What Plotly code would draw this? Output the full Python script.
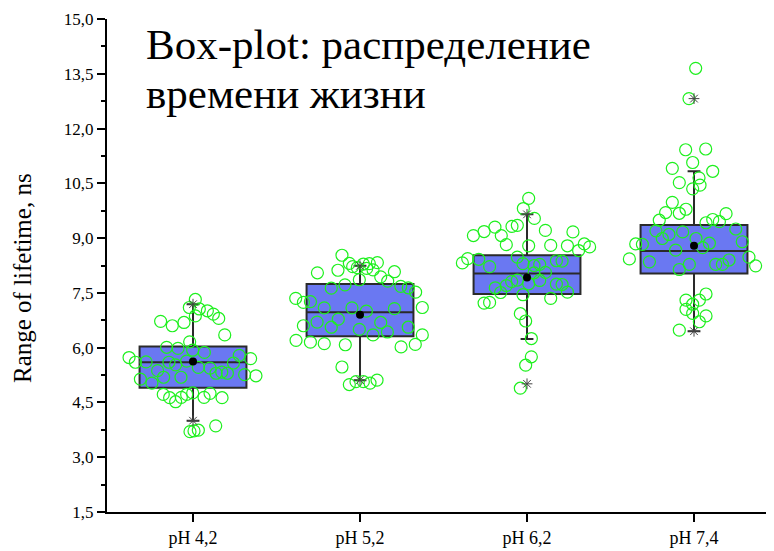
import plotly.graph_objects as go

categories = ["pH 4,2", "pH 5,2", "pH 6,2", "pH 7,4"]
positions = [0, 1, 2, 3]

q1 = [4.90, 6.31, 7.47, 8.03]
median = [5.60, 6.97, 8.03, 8.65]
q3 = [6.03, 7.74, 8.53, 9.36]
whisker_low = [4.00, 5.11, 6.24, 6.45]
whisker_high = [7.19, 8.24, 9.65, 10.83]
means = [5.62, 6.90, 7.92, 8.79]
extreme_low = [4.00, 5.11, 5.01, 6.45]
extreme_high = [7.19, 8.24, 9.65, 12.82]

# individual lifetimes (ns) with horizontal jitter offsets (category units)
g1_values = [7.32, 7.10, 7.06, 7.01, 6.92, 6.80, 6.87, 6.72, 6.60, 6.69,
             6.35, 6.16, 6.01, 5.98, 5.93, 5.87, 5.73, 5.60, 5.61, 5.60,
             5.53, 5.63, 5.46, 5.44, 5.58, 5.79, 5.70, 5.37, 5.19, 5.19,
             5.30, 5.33, 5.30, 5.26, 5.23, 5.14, 5.03, 4.72, 4.63, 4.52,
             4.64, 4.72, 4.76, 4.64, 4.75, 4.63, 3.86, 3.70, 3.72, 3.74]
g1_jitter = [0.014, -0.022, 0.038, 0.086, 0.122, 0.154, 0.014, -0.194, -0.124, -0.054,
             0.190, -0.020, -0.158, -0.090, -0.002, 0.068, -0.383, -0.345, -0.281, -0.144,
             -0.104, -0.038, 0.032, 0.102, 0.242, 0.277, 0.345, -0.212, -0.176, -0.072,
             0.138, 0.172, 0.206, 0.309, 0.377, -0.315, -0.246, -0.178, -0.140, -0.104,
             -0.070, -0.038, -0.002, 0.066, 0.102, 0.174, 0.136, -0.018, 0.006, 0.032]

g2_values = [8.53, 8.31, 8.22, 8.19, 8.29, 8.30, 8.33, 8.17, 8.13, 8.05,
             8.12, 8.08, 7.94, 7.82, 7.86, 7.72, 7.63, 7.68, 7.64, 7.52,
             7.35, 7.24, 7.26, 7.09, 7.09, 7.00, 7.07, 7.10, 6.70, 6.78,
             6.56, 6.60, 6.69, 6.50, 6.43, 6.35, 6.56, 6.35, 6.20, 6.15,
             6.11, 6.08, 6.02, 6.09, 5.47, 4.99, 5.07, 5.07, 5.03, 5.11]
g2_jitter = [-0.108, -0.064, -0.044, -0.016, 0.020, 0.056, 0.104, 0.040, 0.078, -0.255,
             -0.132, 0.206, 0.124, 0.166, -0.004, -0.090, -0.172, 0.244, 0.289, 0.333,
             -0.385, -0.339, -0.297, -0.214, -0.048, 0.038, 0.206, 0.373, -0.257, -0.130,
             -0.172, -0.339, 0.124, -0.004, 0.164, 0.078, 0.289, 0.373, -0.383, -0.297,
             -0.214, -0.088, 0.246, 0.331, -0.108, -0.064, -0.024, 0.020, 0.060, 0.102]

g3_values = [10.09, 9.81, 9.54, 9.07, 9.18, 9.30, 9.07, 8.82, 9.32, 9.35,
             9.21, 9.17, 8.79, 8.80, 8.79, 8.66, 8.84, 8.76, 8.32, 8.44,
             8.42, 8.22, 8.48, 8.30, 8.25, 8.28, 8.38, 8.37, 8.05, 8.06,
             7.84, 7.75, 7.85, 7.81, 7.70, 7.64, 7.51, 7.74, 7.73, 7.52,
             7.35, 7.45, 7.22, 7.24, 6.93, 6.73, 6.25, 5.75, 5.52, 4.89]
g3_jitter = [0.010, -0.022, 0.044, -0.321, -0.257, -0.192, -0.154, -0.124, -0.090, -0.058,
             0.110, 0.275, 0.010, 0.142, 0.242, 0.309, 0.343, 0.375, -0.387, -0.355,
             -0.289, -0.224, -0.058, -0.024, 0.042, 0.076, 0.176, 0.210, 0.042, 0.110,
             0.076, 0.010, -0.058, -0.092, -0.124, -0.190, -0.158, 0.176, 0.210, 0.242,
             0.142, -0.024, -0.257, -0.224, -0.040, -0.008, 0.026, 0.026, -0.008, -0.040]

g4_values = [13.65, 12.82, 11.42, 11.44, 11.07, 10.91, 10.83, 10.52, 10.65, 10.45,
             10.35, 9.98, 9.70, 9.68, 9.79, 9.49, 9.20, 8.99, 9.10, 9.17,
             8.99, 8.74, 8.86, 9.42, 9.51, 9.45, 9.67, 9.25, 8.90, 8.84,
             8.83, 8.43, 8.35, 8.67, 8.14, 8.28, 8.28, 8.28, 8.40, 8.48,
             8.24, 7.30, 7.19, 7.30, 7.47, 7.05, 6.94, 6.71, 6.87, 6.48]
g4_jitter = [0.010, -0.030, -0.050, 0.070, -0.008, -0.130, 0.112, -0.088, 0.030, 0.036,
             -0.008, -0.130, -0.170, -0.088, -0.048, -0.208, -0.228, -0.190, -0.150, -0.068,
             0.012, 0.052, 0.092, 0.072, 0.112, 0.152, 0.192, 0.250, 0.289, -0.349,
             -0.309, -0.387, -0.267, -0.110, -0.088, -0.028, 0.130, 0.170, 0.210, 0.329,
             0.369, -0.048, -0.008, 0.032, 0.072, -0.048, -0.008, 0.032, 0.072, -0.088]

groups_values = [g1_values, g2_values, g3_values, g4_values]
groups_jitter = [g1_jitter, g2_jitter, g3_jitter, g4_jitter]

y_title = "Range of lifetime, ns"
title_line1 = "Box-plot: распределение"
title_line2 = "времени жизни"

FONT = "Liberation Serif, Times New Roman, serif"

fig = go.Figure()

fig.add_trace(go.Box(
    x=positions, q1=q1, median=median, q3=q3,
    lowerfence=whisker_low, upperfence=whisker_high,
    width=0.64, whiskerwidth=0.12,
    fillcolor="#6a78f2",
    line=dict(color="#2a2a2a", width=2),
    boxpoints=False, showlegend=False, hoverinfo="skip",
))

for pos, vals, jit in zip(positions, groups_values, groups_jitter):
    fig.add_trace(go.Scatter(
        x=[pos + j for j in jit], y=vals, mode="markers",
        marker=dict(symbol="circle-open", size=12,
                    line=dict(color="#1ef01e", width=1.2), color="#1ef01e"),
        showlegend=False,
    ))

fig.add_trace(go.Scatter(
    x=positions + positions, y=extreme_low + extreme_high, mode="markers",
    marker=dict(symbol="asterisk-open", size=9, color="#444444",
                line=dict(color="#444444", width=1)),
    showlegend=False,
))

fig.add_trace(go.Scatter(
    x=positions, y=means, mode="markers",
    marker=dict(symbol="circle", size=8, color="black"),
    showlegend=False,
))

fig.add_annotation(text=title_line1, xref="paper", yref="paper",
                   x=0.055, y=0.949, xanchor="left", yanchor="middle",
                   showarrow=False, font=dict(family=FONT, size=43, color="black"))
fig.add_annotation(text=title_line2, xref="paper", yref="paper",
                   x=0.055, y=0.848, xanchor="left", yanchor="middle",
                   showarrow=False, font=dict(family=FONT, size=43, color="black"))
fig.add_annotation(text=y_title, xref="paper", yref="paper",
                   x=-0.1274, y=0.4746, xanchor="center", yanchor="middle",
                   textangle=-90, showarrow=False,
                   font=dict(family=FONT, size=25, color="black"))

fig.update_layout(
    width=766, height=543,
    margin=dict(l=99, r=0, t=11, b=39),
    paper_bgcolor="white", plot_bgcolor="white",
    separators=", ",
    font=dict(family=FONT, color="black"),
    xaxis=dict(
        range=[-0.515, 3.479], tickvals=positions, ticktext=categories,
        showline=True, linecolor="black", linewidth=2,
        ticks="outside", ticklen=8, tickwidth=2, tickcolor="black",
        showgrid=False, zeroline=False,
        tickfont=dict(family=FONT, size=18, color="black"),
    ),
    yaxis=dict(
        range=[1.5, 15.0], tick0=1.5, dtick=1.5, tickformat=".1f",
        showline=True, linecolor="black", linewidth=2,
        ticks="outside", ticklen=8, tickwidth=2, tickcolor="black",
        minor=dict(tick0=0.75, dtick=1.5, ticks="outside", ticklen=4,
                   tickwidth=2, tickcolor="black"),
        showgrid=False, zeroline=False,
        tickfont=dict(family=FONT, size=17, color="black"),
    ),
)

fig.write_html("out.html")
